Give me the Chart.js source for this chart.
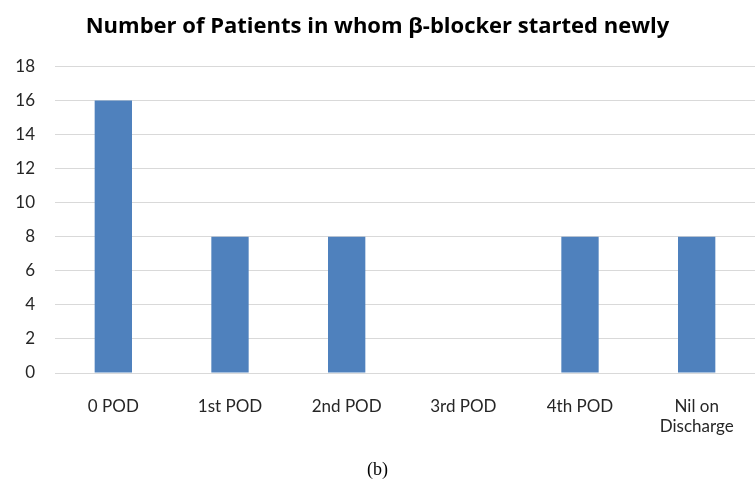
<!DOCTYPE html>
<html>
<head>
<meta charset="utf-8">
<script src="https://cdn.jsdelivr.net/npm/chart.js@4"></script>
<style>
    html, body { margin: 0; padding: 0; background: #fff; }
    #wrap { width: 755px; height: 479px; }
</style>
</head>
<body>
<div id="wrap"><canvas id="chart"></canvas></div>
<script>
// data
const categories = ['0 POD', '1st POD', '2nd POD', '3rd POD', '4th POD', ['Nil on', 'Discharge']];
const patients = [16, 8, 8, 0, 8, 8];
const yTicks = [0, 2, 4, 6, 8, 10, 12, 14, 16, 18];

const txt = '#262626';

new Chart(document.getElementById('chart'), {
    type: 'bar',
    data: {
        labels: categories,
        datasets: [
            {
                label: 'Patients',
                data: patients,
                backgroundColor: '#4F81BD',
                borderWidth: 0,
                categoryPercentage: 1,
                barPercentage: 0.32,
            }
        ]
    },
    options: {
        responsive: true,
        maintainAspectRatio: false,
        animation: false,
        layout: { padding: 0 },
        plugins: {
            legend: { display: false },
            tooltip: { enabled: false },
            title: {
                display: true,
                text: 'Number of Patients in whom β-blocker started newly',
                color: '#000',
                font: { family: 'Open Sans', size: 22, weight: 'bold' },
                padding: { top: 14, bottom: 26 }
            },
            subtitle: {
                display: true,
                position: 'bottom',
                text: '(b)',
                color: '#000',
                font: { family: 'Liberation Serif', size: 18, lineHeight: 1 },
                padding: { top: 21, bottom: 0 }
            }
        },
        scales: {
            x: {
                grid: { display: false },
                border: { display: true, color: '#d9d9d9', width: 1 },
                ticks: {
                    color: txt,
                    font: { family: 'Lato', size: 17 },
                    padding: 15,
                    maxRotation: 0,
                    autoSkip: false
                },
                afterFit: function (scale) {
                    scale.height = 67;
                }
            },
            y: {
                min: 0,
                max: 18,
                afterBuildTicks: function (scale) {
                    scale.ticks = yTicks.map(v => ({ value: v }));
                },
                grid: { color: '#d9d9d9', drawTicks: false },
                border: { display: false },
                ticks: {
                    color: txt,
                    font: { family: 'Lato', size: 17 },
                    padding: 20
                },
                afterFit: function (scale) {
                    scale.width = 55;
                }
            }
        }
    }
});
</script>
</body>
</html>
